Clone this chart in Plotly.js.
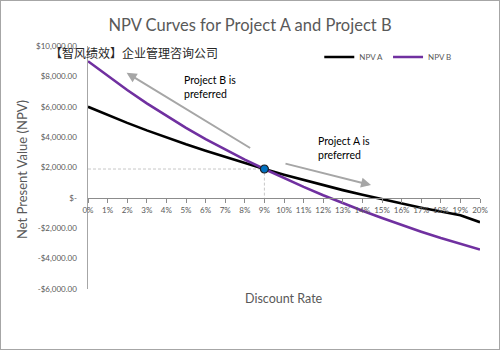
<!DOCTYPE html>
<html>
<head>
<meta charset="utf-8">
<script src="https://cdn.plot.ly/plotly-3.0.1.min.js"></script>
<style>
html,body{margin:0;padding:0;background:#fff;}
#wrap{position:relative;width:500px;height:350px;}
#chart{width:500px;height:350px;}
#frame{position:absolute;left:0;top:0;width:500px;height:350px;box-sizing:border-box;border:1px solid #a6a6a6;pointer-events:none;}
</style>
</head>
<body>
<div id="wrap"><div id="chart"></div><div id="frame"></div></div>
<script>
// Discount rates (%)
const rates = [0,1,2,3,4,5,6,7,8,9,10,11,12,13,14,15,16,17,18,19,20];
const rateLabels = ["0%","1%","2%","3%","4%","5%","6%","7%","8%","9%","10%","11%","12%","13%","14%","15%","16%","17%","18%","19%","20%"];
// NPV series
const npvA = [6000,5460,4940,4445,3975,3530,3105,2695,2295,1900,1530,1175,835,510,200,-95,-375,-645,-900,-1145,-1600];
const npvB = [9000,8030,7100,6220,5390,4610,3870,3170,2515,1900,1300,725,175,-350,-850,-1328,-1786,-2226,-2646,-3030,-3400];
// Crossover point
const crossRate = [9];
const crossNPV = [1900];
// Y tick labels
const yTickVals = [10000,8000,6000,4000,2000,0,-2000,-4000,-6000];
const yTickText = ["$10,000.00","$8,000.00","$6,000.00","$4,000.00","$2,000.00","$-","-$2,000.00","-$4,000.00","-$6,000.00"];

const gray = '#595959';
const data = [
  {x: [0, crossRate[0], crossRate[0]], y: [crossNPV[0], crossNPV[0], 0], type: 'scatter', mode: 'lines',
   showlegend: false, hoverinfo: 'skip', line: {color: '#c8c8c8', width: 1, dash: '3px,2px'}},
  {x: rates, y: npvA, name: 'NPV A', type: 'scatter', mode: 'lines',
   line: {color: '#000000', width: 2.6}},
  {x: rates, y: npvB, name: 'NPV B', type: 'scatter', mode: 'lines',
   line: {color: '#7030A0', width: 2.6}},
  {x: crossRate, y: crossNPV, type: 'scatter', mode: 'markers', showlegend: false,
   marker: {color: '#0070C0', size: 8, line: {color: '#1f1f1f', width: 1.2}}}
];

const layout = {
  width: 500, height: 350,
  margin: {l: 88, r: 20, t: 46, b: 61},
  paper_bgcolor: '#ffffff', plot_bgcolor: '#ffffff',
  font: {family: 'Lato, "Open Sans", sans-serif', color: gray},
  title: {text: 'NPV Curves for Project A and Project B', x: 0.5, xref: 'container', xanchor: 'center',
          y: 0.945, yref: 'container', font: {size: 16.5, color: gray, family: 'Lato, sans-serif'}},
  showlegend: true,
  legend: {orientation: 'h', x: 0.59, xanchor: 'left', y: 0.955, yanchor: 'middle',
           font: {size: 8, color: gray}, bgcolor: 'rgba(0,0,0,0)', itemwidth: 30, tracegroupgap: 0},
  xaxis: {range: [0, 20], tickvals: rates, ticktext: rateLabels, anchor: 'free', position: 0.375,
          automargin: false, tickangle: 0,
          showline: true, linecolor: '#8c8c8c', linewidth: 1.5, ticks: 'outside', ticklen: 4,
          tickcolor: '#8c8c8c', showgrid: false, zeroline: false, tickfont: {size: 8, color: gray}},
  yaxis: {range: [-6000, 10000], tickvals: yTickVals, ticktext: yTickText, showline: true, automargin: false,
          linecolor: '#a6a6a6', linewidth: 1.5, ticks: '', showgrid: false, zeroline: false,
          ticklabelstandoff: 8, tickfont: {size: 8, color: gray}},
  annotations: [
    {text: 'Discount Rate', xref: 'paper', yref: 'paper', x: 0.5, y: (289-298)/243, xanchor: 'center', yanchor: 'middle',
     showarrow: false, font: {size: 12.5, color: gray}},
    {text: 'Net Present Value (NPV)', xref: 'paper', yref: 'paper', x: (22-88)/392, y: (289-170)/243, textangle: -90,
     xanchor: 'center', yanchor: 'middle', showarrow: false, font: {size: 13, color: gray}},
    {text: '【智风绩效】企业管理咨询公司', xref: 'paper', yref: 'paper', x: (134-88)/392, y: (289-52)/243,
     xanchor: 'center', yanchor: 'middle', showarrow: false,
     font: {size: 12, color: '#262626', family: '"Noto Sans CJK SC", sans-serif'}},
    {text: 'Project B is<br>preferred', xref: 'paper', yref: 'paper', x: (182-88)/392, y: (289-87)/243,
     xanchor: 'left', yanchor: 'middle', align: 'left', showarrow: false, font: {size: 10.5, color: '#000'}},
    {text: 'Project A is<br>preferred', xref: 'paper', yref: 'paper', x: (316-88)/392, y: (289-147.5)/243,
     xanchor: 'left', yanchor: 'middle', align: 'left', showarrow: false, font: {size: 10.5, color: '#000'}},
    {text: '', x: 1.97, y: 8240, ax: 8.35, ay: 3225, xref: 'x', yref: 'y', axref: 'x', ayref: 'y',
     showarrow: true, arrowhead: 2, arrowsize: 1, arrowwidth: 2, arrowcolor: '#a6a6a6'},
    {text: '', x: 14.44, y: 840, ax: 10.0, ay: 2280, xref: 'x', yref: 'y', axref: 'x', ayref: 'y',
     showarrow: true, arrowhead: 2, arrowsize: 1, arrowwidth: 2, arrowcolor: '#a6a6a6'}
  ]
};
Plotly.newPlot('chart', data, layout, {displayModeBar: false, staticPlot: true});
</script>
</body>
</html>
